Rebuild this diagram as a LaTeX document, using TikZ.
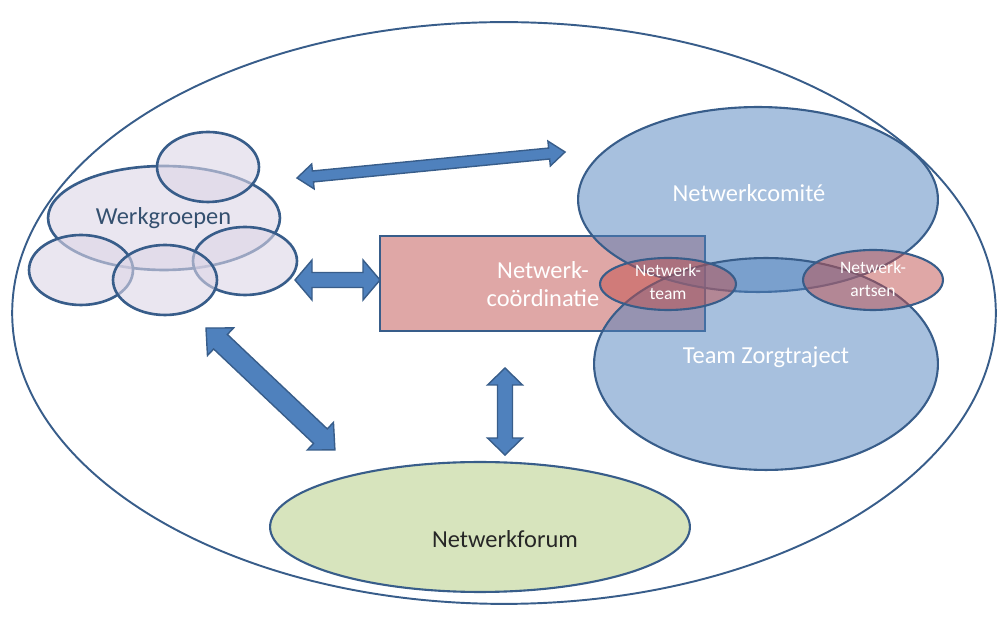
\documentclass[tikz,border=0pt]{standalone}
\usepackage{fontspec}
\setmainfont{Carlito}
\usetikzlibrary{calc,shapes.geometric}
\definecolor{outl}{HTML}{385D8A}
\definecolor{arrf}{HTML}{4F81BD}
\definecolor{blu}{HTML}{4F81BD}
\definecolor{rd}{HTML}{C0504D}
\definecolor{wg}{HTML}{DCD5E6}
\definecolor{grn}{HTML}{D7E4BD}
\definecolor{wgtext}{HTML}{34506F}
\tikzset{
  esize/.style 2 args={minimum width={#1*0.04cm}, minimum height={#2*0.04cm}},
  ell/.style={ellipse, inner sep=0pt, outer sep=0pt, draw=outl, line width=1.2pt},
  wgell/.style={ell, fill=wg, fill opacity=0.6, line width=1.5pt},
  blueell/.style={ell, fill=blu, fill opacity=0.5},
  redell/.style={ell, fill=rd, fill opacity=0.5},
  arrsty/.style={draw=outl, fill=arrf, line width=0.8pt, line join=miter},
  txt/.style={inner sep=0pt, font=\fontsize{13.9}{16}\selectfont},
  smalltxt/.style={inner sep=0pt, text=white, align=center, font=\fontsize{10}{13.6}\selectfont},
}
\newcommand\blockarr[5]{%
  \path let \p1=(#1), \p2=(#2) in
    \pgfextra{\pgfmathsetmacro\tmpang{atan2(\y2-\y1,\x2-\x1)}\xdef\barang{\tmpang}%
              \pgfmathsetmacro\tmplen{veclen(\x2-\x1,\y2-\y1)/0.56905}\xdef\barlen{\tmplen}};
  \begin{scope}[shift={(#1)}, rotate=\barang]
    \draw[arrsty] (0,0) -- (#5,#4/2) -- (#5,#3/2) -- (\barlen-#5,#3/2) -- (\barlen-#5,#4/2)
      -- (\barlen,0) -- (\barlen-#5,-#4/2) -- (\barlen-#5,-#3/2) -- (#5,-#3/2) -- (#5,-#4/2) -- cycle;
  \end{scope}}
\begin{document}
\begin{tikzpicture}[x=0.02cm,y=0.02cm]
\useasboundingbox (0,0) rectangle (998,622);
% outer ellipse
\node[ell, esize={492}{291}, line width=1.1pt] (outer) at (504,309) {};
% werkgroepen cluster
\node[wgell, esize={116}{52}] (wgbig) at (164,404) {};
\node[wgell, esize={51}{35}] (wgtop) at (208,455) {};
\node[wgell, esize={52}{35}] (wgbl) at (81,352) {};
\node[wgell, esize={52}{34}] (wgbr) at (245,361) {};
\node[wgell, esize={52}{35}] (wgbm) at (165,342) {};
% netwerkcoordinatie
\node[draw=outl, line width=1.2pt, fill=rd, fill opacity=0.5, minimum width={325*0.02cm},
      minimum height={95*0.02cm}, inner sep=0pt, outer sep=0pt] (coord) at (542.5,338.5) {};
% blue ellipses
\node[blueell, esize={180}{92.5}] (comite) at (758,422.5) {};
\node[blueell, esize={172}{106}] (team) at (766,258) {};
% red ellipses
\node[redell, esize={68}{26}] (nteam) at (668,338) {};
\node[redell, esize={70}{30}] (nartsen) at (873,342) {};
% forum
\node[ell, fill=grn, esize={210}{65}] (forum) at (480,95) {};
% arrows
\coordinate (a1s) at (297,444); \coordinate (a1e) at (565,470);
\coordinate (a2s) at (295,342); \coordinate (a2e) at (380,342);
\coordinate (a3s) at (206,294); \coordinate (a3e) at (335,172);
\coordinate (a4s) at (505,254); \coordinate (a4e) at (505,167);
\blockarr{a1s}{a1e}{11}{25}{16}
\blockarr{a2s}{a2e}{15}{40}{17}
\blockarr{a3s}{a3e}{20}{38}{20}
\blockarr{a4s}{a4e}{15}{35}{17}
% texts
\node[txt, text=wgtext] (twg) at (163.5,404) {Werkgroepen};
\node[txt, text=white] (tcom) at (749,429) {Netwerkcomité};
\node[txt, text=white, align=center] (tcoord) at (543,338) {Netwerk-\\coördinatie};
\node[smalltxt] (tnteam) at (668,340) {Netwerk-\\team};
\node[smalltxt] (tnart) at (873,343) {Netwerk-\\artsen};
\node[txt, text=white] (tteam) at (766,265) {Team Zorgtraject};
\node[txt, text=black!85] (tforum) at (505,83) {Netwerkforum};
\end{tikzpicture}
\end{document}
